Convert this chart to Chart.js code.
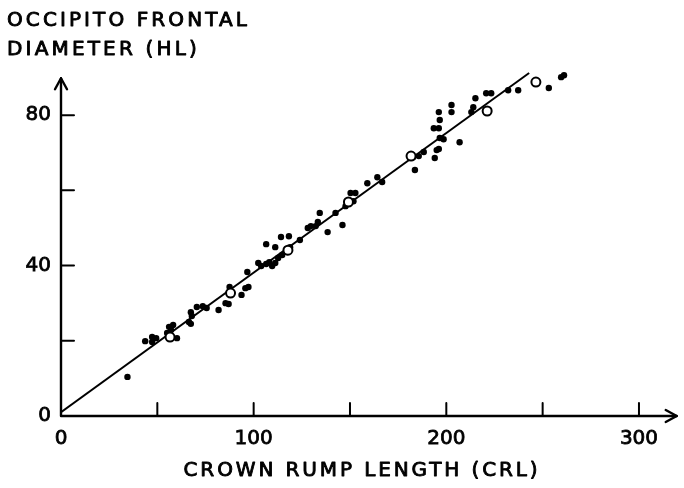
<!DOCTYPE html>
<html>
<head>
<meta charset="utf-8">
<script src="https://cdn.jsdelivr.net/npm/chart.js@4/dist/chart.umd.min.js"></script>
<style>
  html, body { margin: 0; padding: 0; background: #fff; }
  #c { display: block; }
</style>
</head>
<body>
<canvas id="c" width="684" height="488"></canvas>
<script>
// ---- data ----
const crlFilled = [34.5,43.7,47.3,49.4,47.3,56.1,57.1,58.2,55.1,60.2,67.4,67.9,66.4,67.4,70.5,73.6,75.6,81.8,85.4,87.0,
  87.5,93.7,95.7,97.3,96.7,102.4,103.9,106.5,108.1,109.6,111.2,112.7,114.8,106.5,111.2,114.2,118.3,118.9,117.3,124.0,
  128.1,129.7,132.2,133.3,134.3,138.4,146.1,142.5,147.7,148.7,151.8,150.3,152.8,159.0,164.2,166.7,183.7,182.7,185.7,188.3,
  194.0,195.0,196.1,196.6,196.1,193.5,196.6,198.6,196.1,206.9,202.7,202.7,213.0,214.0,215.1,220.7,223.3,232.1,237.3,253.2,
  259.6,261.1];
const hlFilled = [10.4,19.9,21.0,20.7,19.7,23.7,22.9,24.2,22.1,20.7,27.6,26.6,25.0,24.5,29.0,29.2,28.7,28.2,30.0,29.8,
  34.3,32.2,34.0,34.3,38.3,40.7,39.9,40.4,40.9,39.9,40.7,42.0,42.8,45.7,44.9,47.6,47.8,44.9,43.6,46.8,
  50.0,50.5,50.5,51.6,54.0,48.9,50.8,54.0,55.8,56.6,57.1,59.3,59.3,61.9,63.5,62.2,65.4,68.8,69.1,70.2,
  68.6,70.7,80.8,78.7,76.5,76.5,73.9,73.6,71.0,72.8,82.7,80.8,80.8,82.1,84.5,85.8,85.8,86.6,86.6,87.2,
  90.1,90.6];
const crlOpen = [56.6,88.0,117.8,149.2,181.7,221.2,246.5];
const hlOpen  = [21.0,32.7,44.1,56.9,69.1,81.1,88.8];
const fitCrl = [0, 243];
const fitHl  = [1, 91.2];
const xLabelTicks = [0, 100, 200, 300];
const yLabelTicks = [0, 40, 80];
const xTickMarks = [50, 100, 150, 200, 250, 300];
const yTickMarks = [20, 40, 60, 80];
const xAxisEnd = 319.6;
const yAxisEnd = 89.8;
const yTitleLines = ['OCCIPITO FRONTAL', 'DIAMETER (HL)'];
const xTitle = 'CROWN RUMP LENGTH (CRL)';

const pts = (xs, ys) => xs.map((x, i) => ({ x: x, y: ys[i] }));

const FONT = '"DejaVu Sans", "Liberation Sans", sans-serif';

function spacedText(ctx, text, x, y, target, align) {
  ctx.save();
  ctx.letterSpacing = '0px';
  const w = ctx.measureText(text).width;
  const s = (target - w) / text.length;
  ctx.letterSpacing = s + 'px';
  ctx.textAlign = 'left';
  ctx.textBaseline = 'alphabetic';
  let sx = x;
  if (align === 'center') sx = x - target / 2;
  ctx.lineWidth = 0.9;
  ctx.lineJoin = 'round';
  ctx.strokeStyle = '#000';
  ctx.fillText(text, sx, y);
  ctx.strokeText(text, sx, y);
  ctx.restore();
}

const axesPlugin = {
  id: 'handAxes',
  beforeDatasetsDraw(chart) {
    const ctx = chart.ctx;
    const xs = chart.scales.x, ys = chart.scales.y;
    const x0 = xs.getPixelForValue(0), y0 = ys.getPixelForValue(0);
    const xe = xs.getPixelForValue(xAxisEnd), ye = ys.getPixelForValue(yAxisEnd);
    ctx.save();
    ctx.strokeStyle = '#000';
    ctx.lineWidth = 2.4;
    ctx.lineCap = 'round';
    ctx.lineJoin = 'round';
    ctx.beginPath();
    ctx.moveTo(x0, ye); ctx.lineTo(x0, y0); ctx.lineTo(xe, y0);
    ctx.stroke();
    ctx.beginPath();
    ctx.moveTo(x0 - 6, ye + 11); ctx.lineTo(x0, ye); ctx.lineTo(x0 + 6, ye + 11);
    ctx.moveTo(xe - 11, y0 - 6); ctx.lineTo(xe, y0); ctx.lineTo(xe - 11, y0 + 6);
    ctx.stroke();
    ctx.lineWidth = 2;
    ctx.beginPath();
    xTickMarks.forEach(v => { const p = xs.getPixelForValue(v); ctx.moveTo(p, y0); ctx.lineTo(p, y0 - 13); });
    yTickMarks.forEach(v => { const p = ys.getPixelForValue(v); ctx.moveTo(x0, p); ctx.lineTo(x0 + 13, p); });
    ctx.stroke();
    ctx.restore();
  },
  afterDraw(chart) {
    const ctx = chart.ctx;
    ctx.save();
    ctx.fillStyle = '#000';
    ctx.font = '20px ' + FONT;
    spacedText(ctx, yTitleLines[0], 7, 26, 243, 'left');
    spacedText(ctx, yTitleLines[1], 7, 55, 193, 'left');
    spacedText(ctx, xTitle, 362, 476, 357, 'center');
    ctx.restore();
  }
};

Chart.defaults.color = '#000';
Chart.defaults.font.family = FONT;

new Chart(document.getElementById('c'), {
  type: 'scatter',
  data: {
    datasets: [
      {
        type: 'line',
        data: pts(fitCrl, fitHl),
        borderColor: '#000',
        borderWidth: 2,
        pointRadius: 0,
        fill: false,
        tension: 0,
        order: 3
      },
      {
        data: pts(crlFilled, hlFilled),
        pointRadius: 3.2,
        pointBackgroundColor: '#000',
        pointBorderWidth: 0,
        clip: false,
        order: 2
      },
      {
        data: pts(crlOpen, hlOpen),
        pointRadius: 4.5,
        pointBackgroundColor: '#fff',
        pointBorderColor: '#000',
        pointBorderWidth: 2,
        clip: false,
        order: 1
      }
    ]
  },
  options: {
    responsive: false,
    animation: false,
    devicePixelRatio: 1,
    layout: { padding: { top: 70, right: 1, left: 0, bottom: 0 } },
    plugins: { legend: { display: false }, tooltip: { enabled: false }, title: { display: false } },
    scales: {
      x: {
        type: 'linear',
        min: 0, max: 320,
        grid: { display: false, drawTicks: false },
        border: { display: false },
        afterBuildTicks: s => { s.ticks = xLabelTicks.map(v => ({ value: v })); },
        afterFit: s => { s.height = 72; },
        ticks: { autoSkip: false, maxRotation: 0, padding: 11, font: { size: 20 }, color: '#000', textStrokeColor: '#000', textStrokeWidth: 0.8 }
      },
      y: {
        type: 'linear',
        min: 0, max: 92,
        grid: { display: false, drawTicks: false },
        border: { display: false },
        afterBuildTicks: s => { s.ticks = yLabelTicks.map(v => ({ value: v })); },
        afterFit: s => { s.width = 61; },
        ticks: { autoSkip: false, padding: 10, font: { size: 20 }, color: '#000', textStrokeColor: '#000', textStrokeWidth: 0.8 }
      }
    }
  },
  plugins: [axesPlugin]
});
</script>
</body>
</html>
